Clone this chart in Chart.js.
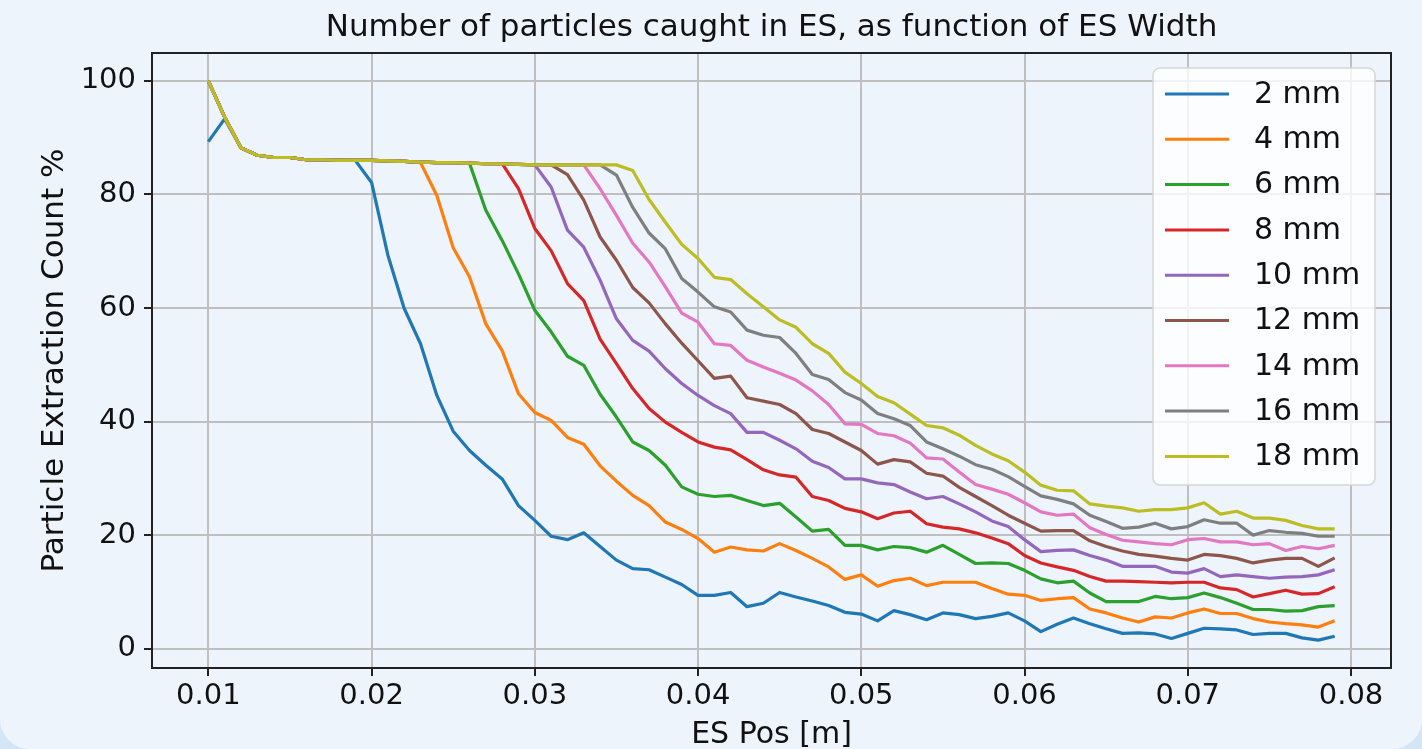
<!DOCTYPE html>
<html>
<head>
    <title>Particles caught in ES</title>
    <script src="https://cdn.jsdelivr.net/npm/chart.js"></script>
    <style>
        body { margin: 0; background: #d4e5f6; overflow: hidden; }
        #wrap { width: 1422px; height: 749px; background: #edf4fb; border-radius: 0 0 30px 30px; }
    </style>
</head>
<body>
    <div id="wrap"><canvas id="myChart" width="1422" height="749"></canvas></div>

    <script>
        // ES position [m]
        var esPos = [
            0.010, 0.011, 0.012, 0.013, 0.014, 0.015, 0.016, 0.017, 0.018, 0.019,
            0.020, 0.021, 0.022, 0.023, 0.024, 0.025, 0.026, 0.027, 0.028, 0.029,
            0.030, 0.031, 0.032, 0.033, 0.034, 0.035, 0.036, 0.037, 0.038, 0.039,
            0.040, 0.041, 0.042, 0.043, 0.044, 0.045, 0.046, 0.047, 0.048, 0.049,
            0.050, 0.051, 0.052, 0.053, 0.054, 0.055, 0.056, 0.057, 0.058, 0.059,
            0.060, 0.061, 0.062, 0.063, 0.064, 0.065, 0.066, 0.067, 0.068, 0.069,
            0.070, 0.071, 0.072, 0.073, 0.074, 0.075, 0.076, 0.077, 0.078, 0.079
        ];

        var widths = ['2 mm', '4 mm', '6 mm', '8 mm', '10 mm', '12 mm', '14 mm', '16 mm', '18 mm'];

        var w2 = [
            89.3, 93.3, 88.2, 86.9, 86.5, 86.5, 86.1, 86.1, 86.0, 86.0,
            82.1, 69.3, 59.9, 53.7, 44.6, 38.3, 34.9, 32.3, 29.9, 25.2,
            22.6, 19.8, 19.2, 20.4, 18.0, 15.6, 14.1, 13.9, 12.6, 11.3,
            9.4, 9.4, 9.9, 7.4, 8.0, 9.9, 9.1, 8.4, 7.6, 6.4,
            6.1, 4.9, 6.7, 6.0, 5.1, 6.3, 6.0, 5.3, 5.7, 6.3,
            4.9, 3.0, 4.3, 5.4, 4.4, 3.5, 2.7, 2.8, 2.6, 1.8,
            2.7, 3.6, 3.5, 3.3, 2.5, 2.7, 2.7, 1.9, 1.5, 2.2
        ];
        var w4 = [
            100, 93.6, 88.2, 86.9, 86.5, 86.5, 86.1, 86.1, 86.0, 86.0,
            86.0, 85.9, 85.8, 85.6, 79.8, 70.6, 65.5, 57.2, 52.5, 44.9,
            41.6, 40.2, 37.2, 36.0, 32.2, 29.5, 27.0, 25.2, 22.3, 21.0,
            19.4, 17.0, 17.9, 17.4, 17.2, 18.5, 17.3, 15.9, 14.4, 12.2,
            13.0, 11.0, 12.0, 12.4, 11.1, 11.7, 11.7, 11.7, 10.6, 9.6,
            9.4, 8.5, 8.8, 9.0, 7.0, 6.3, 5.4, 4.7, 5.6, 5.4,
            6.3, 7.0, 6.2, 6.2, 5.3, 4.7, 4.4, 4.2, 3.8, 4.9
        ];
        var w6 = [
            100, 93.6, 88.2, 86.9, 86.5, 86.5, 86.1, 86.1, 86.0, 86.0,
            86.0, 85.9, 85.8, 85.7, 85.6, 85.6, 85.5, 77.2, 71.9, 66.0,
            59.6, 55.8, 51.5, 49.9, 44.8, 40.8, 36.4, 34.9, 32.3, 28.5,
            27.2, 26.8, 27.0, 26.1, 25.2, 25.6, 23.2, 20.7, 21.0, 18.2,
            18.2, 17.4, 18.0, 17.8, 17.0, 18.2, 16.6, 15.0, 15.1, 15.0,
            13.8, 12.3, 11.6, 11.9, 9.8, 8.3, 8.3, 8.3, 9.2, 8.8,
            9.0, 9.8, 9.0, 8.0, 6.9, 6.9, 6.6, 6.7, 7.4, 7.6
        ];
        var w8 = [
            100, 93.6, 88.2, 86.9, 86.5, 86.5, 86.1, 86.1, 86.0, 86.0,
            86.0, 85.9, 85.8, 85.7, 85.6, 85.6, 85.5, 85.4, 85.4, 81.0,
            74.0, 70.1, 64.3, 61.3, 54.5, 50.2, 45.8, 42.3, 39.9, 38.1,
            36.4, 35.5, 35.0, 33.3, 31.5, 30.6, 30.2, 26.8, 26.1, 24.7,
            24.1, 22.9, 23.9, 24.2, 22.0, 21.4, 21.1, 20.4, 19.5, 18.5,
            16.4, 15.1, 14.4, 13.8, 12.7, 11.9, 11.9, 11.8, 11.7, 11.6,
            11.7, 11.7, 10.7, 10.4, 9.1, 9.7, 10.3, 9.6, 9.7, 10.9
        ];
        var w10 = [
            100, 93.6, 88.2, 86.9, 86.5, 86.5, 86.1, 86.1, 86.0, 86.0,
            86.0, 85.9, 85.8, 85.7, 85.6, 85.6, 85.5, 85.4, 85.4, 85.3,
            85.2, 81.3, 73.7, 70.7, 64.9, 58.1, 54.3, 52.4, 49.3, 46.7,
            44.6, 42.8, 41.4, 38.1, 38.1, 36.7, 35.2, 33.0, 31.9, 29.9,
            29.9, 29.2, 28.9, 27.6, 26.4, 26.8, 25.5, 24.1, 22.5, 21.5,
            19.2, 17.1, 17.3, 17.4, 16.4, 15.6, 14.5, 14.5, 14.5, 13.5,
            13.3, 14.1, 12.7, 13.0, 12.7, 12.4, 12.6, 12.7, 13.0, 13.9
        ];
        var w12 = [
            100, 93.6, 88.2, 86.9, 86.5, 86.5, 86.1, 86.1, 86.0, 86.0,
            86.0, 85.9, 85.8, 85.7, 85.6, 85.6, 85.5, 85.4, 85.4, 85.3,
            85.2, 85.2, 83.5, 79.0, 72.5, 68.4, 63.6, 60.9, 57.2, 53.8,
            50.7, 47.6, 48.0, 44.2, 43.6, 43.0, 41.4, 38.6, 37.9, 36.4,
            34.9, 32.5, 33.3, 32.9, 30.9, 30.4, 28.4, 26.8, 25.2, 23.5,
            22.1, 20.7, 20.8, 20.8, 19.0, 18.0, 17.2, 16.6, 16.3, 15.9,
            15.6, 16.6, 16.4, 15.9, 15.1, 15.6, 15.9, 15.9, 14.5, 16.0
        ];
        var w14 = [
            100, 93.6, 88.2, 86.9, 86.5, 86.5, 86.1, 86.1, 86.0, 86.0,
            86.0, 85.9, 85.8, 85.7, 85.6, 85.6, 85.5, 85.4, 85.4, 85.3,
            85.2, 85.2, 85.2, 85.2, 81.0, 76.3, 71.4, 68.1, 63.7, 59.1,
            57.5, 53.7, 53.4, 50.8, 49.6, 48.5, 47.3, 45.4, 43.0, 39.6,
            39.5, 37.9, 37.5, 36.2, 33.6, 33.4, 31.1, 28.9, 28.1, 27.2,
            25.7, 24.1, 23.5, 23.7, 21.3, 20.1, 19.1, 18.8, 18.5, 18.3,
            19.2, 19.4, 18.8, 18.8, 18.3, 18.5, 17.3, 18.0, 17.6, 18.2
        ];
        var w16 = [
            100, 93.6, 88.2, 86.9, 86.5, 86.5, 86.1, 86.1, 86.0, 86.0,
            86.0, 85.9, 85.8, 85.7, 85.6, 85.6, 85.5, 85.4, 85.4, 85.3,
            85.2, 85.2, 85.2, 85.2, 85.2, 83.4, 77.7, 73.2, 70.4, 65.2,
            62.8, 60.2, 59.3, 56.1, 55.2, 54.8, 52.0, 48.3, 47.4, 45.1,
            43.8, 41.4, 40.5, 39.3, 36.4, 35.2, 33.9, 32.4, 31.6, 30.3,
            28.6, 26.9, 26.3, 25.5, 23.5, 22.4, 21.2, 21.4, 22.1, 21.1,
            21.5, 22.7, 22.1, 22.1, 20.0, 20.8, 20.5, 20.3, 19.8, 19.8
        ];
        var w18 = [
            100, 93.6, 88.2, 86.9, 86.5, 86.5, 86.1, 86.1, 86.0, 86.0,
            86.0, 85.9, 85.8, 85.7, 85.6, 85.6, 85.5, 85.4, 85.4, 85.3,
            85.2, 85.2, 85.2, 85.2, 85.2, 85.2, 84.2, 79.1, 75.1, 71.2,
            68.7, 65.4, 65.0, 62.5, 60.2, 57.9, 56.6, 53.7, 52.0, 48.7,
            46.7, 44.4, 43.3, 41.3, 39.3, 38.9, 37.6, 35.8, 34.3, 33.1,
            31.1, 28.8, 27.9, 27.8, 25.5, 25.1, 24.8, 24.2, 24.5, 24.5,
            24.8, 25.7, 23.7, 24.2, 23.0, 23.0, 22.6, 21.7, 21.1, 21.1
        ];

        var xTicks = [0.01, 0.02, 0.03, 0.04, 0.05, 0.06, 0.07, 0.08];
        var yTicks = [0, 20, 40, 60, 80, 100];

        var series = [w2, w4, w6, w8, w10, w12, w14, w16, w18];
        var colors = ['#1f77b4', '#ff7f0e', '#2ca02c', '#d62728', '#9467bd',
                      '#8c564b', '#e377c2', '#7f7f7f', '#bcbd22'];

        var datasets = series.map(function (vals, k) {
            return {
                label: widths[k],
                data: vals.map(function (v, i) { return { x: esPos[i], y: v }; }),
                borderColor: colors[k],
                borderWidth: 3.2,
                borderJoinStyle: 'round',
                pointRadius: 0,
                tension: 0,
                order: series.length - k   // later series on top, like matplotlib
            };
        });

        var FONT = "'DejaVu Sans', sans-serif";
        Chart.defaults.font.family = FONT;
        Chart.defaults.color = '#111';

        // frame, title, axis labels and legend
        var decor = {
            id: 'decor',
            afterDraw: function (chart) {
                var ctx = chart.ctx;
                var a = chart.chartArea;
                ctx.save();

                ctx.strokeStyle = '#222';
                ctx.lineWidth = 2;
                ctx.strokeRect(a.left, a.top, a.right - a.left, a.bottom - a.top);

                ctx.fillStyle = '#111';
                ctx.textAlign = 'center';
                ctx.textBaseline = 'middle';
                ctx.font = '31px ' + FONT;
                ctx.fillText('Number of particles caught in ES, as function of ES Width', (a.left + a.right) / 2, 28);

                ctx.font = '30px ' + FONT;
                ctx.fillText('ES Pos [m]', (a.left + a.right) / 2, 735);

                ctx.save();
                ctx.font = '31px ' + FONT;
                ctx.translate(55, (a.top + a.bottom) / 2);
                ctx.rotate(-Math.PI / 2);
                ctx.fillText('Particle Extraction Count %', 0, 0);
                ctx.restore();

                // legend
                var lx = 1153, ly = 68, lw = 222, lh = 417, r = 7;
                ctx.beginPath();
                ctx.moveTo(lx + r, ly);
                ctx.arcTo(lx + lw, ly, lx + lw, ly + lh, r);
                ctx.arcTo(lx + lw, ly + lh, lx, ly + lh, r);
                ctx.arcTo(lx, ly + lh, lx, ly, r);
                ctx.arcTo(lx, ly, lx + lw, ly, r);
                ctx.closePath();
                ctx.fillStyle = 'rgba(255,255,255,0.8)';
                ctx.fill();
                ctx.strokeStyle = '#d6d6d6';
                ctx.lineWidth = 1.5;
                ctx.stroke();

                ctx.textAlign = 'left';
                ctx.font = '30px ' + FONT;
                chart.data.datasets.forEach(function (ds, k) {
                    var y = 94 + k * 45.3;
                    ctx.strokeStyle = ds.borderColor;
                    ctx.lineWidth = 3;
                    ctx.beginPath();
                    ctx.moveTo(1165, y);
                    ctx.lineTo(1229, y);
                    ctx.stroke();
                    ctx.fillStyle = '#111';
                    ctx.fillText(ds.label, 1254, y + 1);
                });

                ctx.restore();
            }
        };

        var ctx = document.getElementById('myChart').getContext('2d');
        var myChart = new Chart(ctx, {
            type: 'line',
            data: { datasets: datasets },
            plugins: [decor],
            options: {
                responsive: false,
                devicePixelRatio: 1,
                animation: false,
                layout: { padding: { left: 0, top: 53, right: 31, bottom: 0 } },
                plugins: {
                    legend: { display: false },
                    title: { display: false },
                    tooltip: { enabled: false }
                },
                scales: {
                    x: {
                        type: 'linear',
                        min: 0.00655,
                        max: 0.08245,
                        afterBuildTicks: function (scale) {
                            scale.ticks = xTicks.map(function (v) { return { value: v }; });
                        },
                        afterFit: function (scale) { scale.height = 81; },
                        ticks: {
                            font: { size: 29 },
                            color: '#111',
                            padding: 3,
                            maxRotation: 0,
                            autoSkip: false,
                            callback: function (value) { return value.toFixed(2); }
                        },
                        grid: {
                            color: '#bfbfbf',
                            lineWidth: 2,
                            tickColor: '#222',
                            tickLength: 8,
                            tickWidth: 2
                        },
                        border: { display: false }
                    },
                    y: {
                        min: -3.4,
                        max: 104.9,
                        afterBuildTicks: function (scale) {
                            scale.ticks = yTicks.map(function (v) { return { value: v }; });
                        },
                        afterFit: function (scale) { scale.width = 152; },
                        ticks: {
                            font: { size: 29 },
                            color: '#111',
                            padding: 8
                        },
                        grid: {
                            color: '#bfbfbf',
                            lineWidth: 2,
                            tickColor: '#222',
                            tickLength: 8,
                            tickWidth: 2
                        },
                        border: { display: false }
                    }
                }
            }
        });
    </script>
</body>
</html>
